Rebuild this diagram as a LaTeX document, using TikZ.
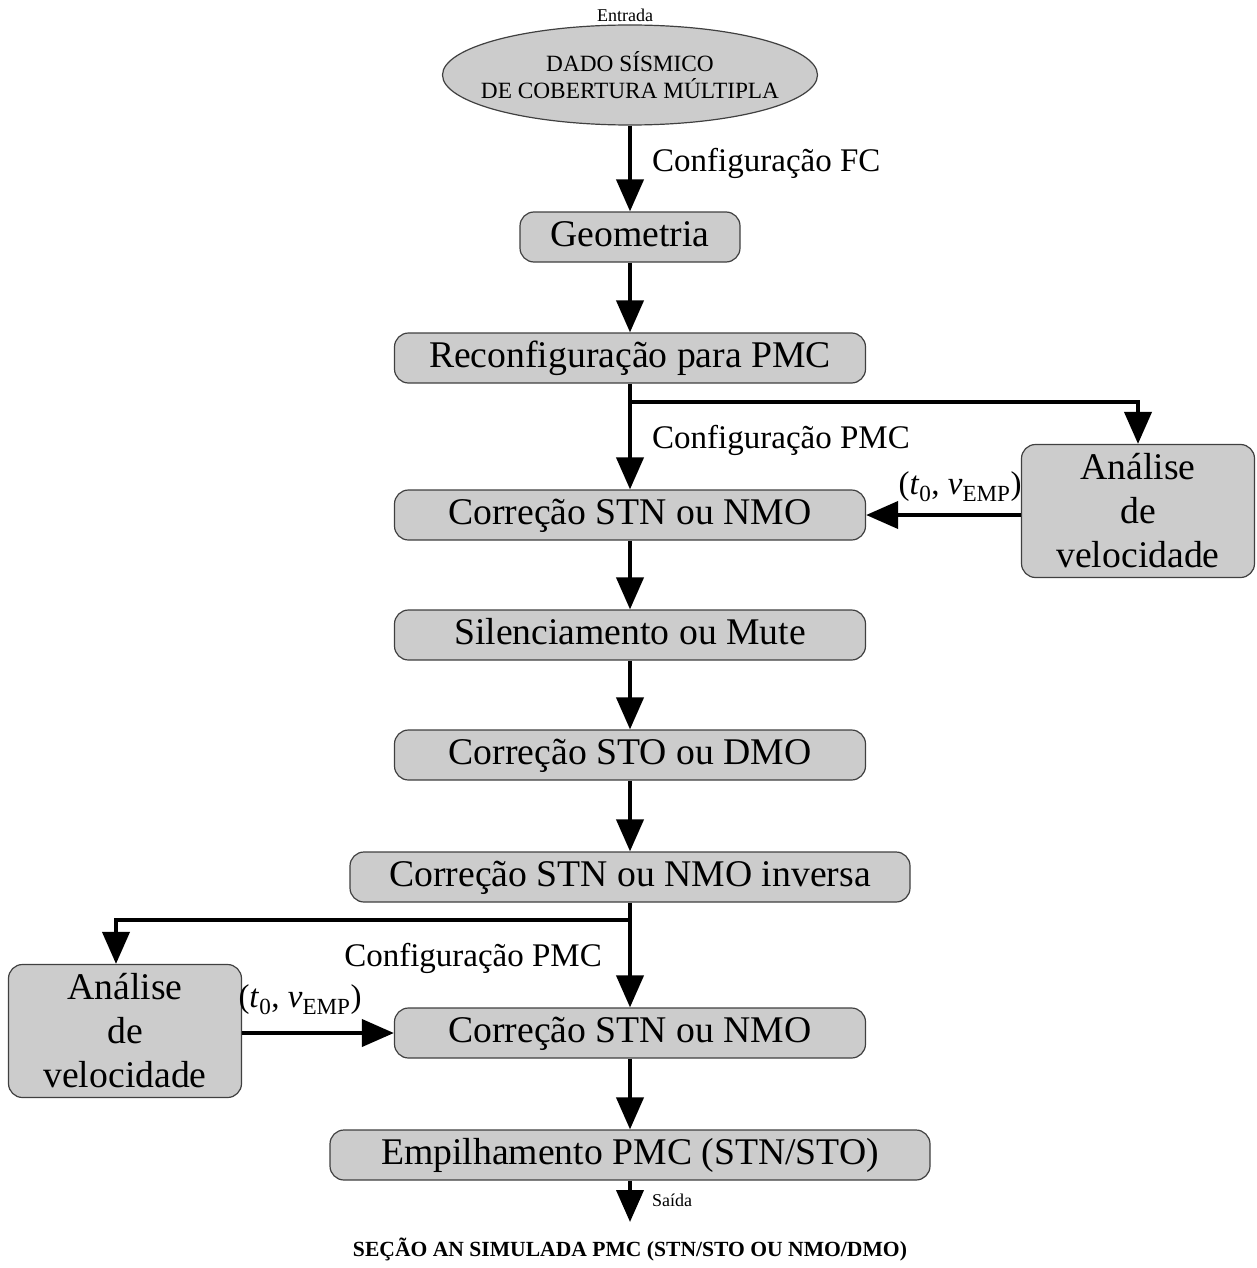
\documentclass[tikz,border=0pt]{standalone}
\usepackage{fontspec}
\setmainfont{Liberation Serif}
\usetikzlibrary{arrows.meta,shapes.geometric}

\begin{document}
\begin{tikzpicture}[x=1pt, y=-1pt,
    caixa/.style={draw=black!75, line width=1.2pt, fill=black!20, rounded corners=14pt,
        minimum height=50pt, inner sep=0pt, text height=26pt, text depth=8pt,
        font=\fontsize{37.7}{44}\selectfont},
    analise/.style={caixa, minimum width=233pt, minimum height=133pt, text height=, text depth=, align=center},
    seta/.style={line width=4pt, -{Triangle[length=32pt,width=27pt]}},
    rotulo/.style={inner sep=0pt, font=\fontsize{33}{40}\selectfont},
    pequeno/.style={inner sep=0pt, font=\fontsize{18}{20}\selectfont}]
    \useasboundingbox (0,0) rectangle (1257,1268);
    % entrada
    \node[ellipse, draw=black!75, line width=1.2pt, fill=black!20, minimum width=375pt, minimum height=100pt,
        inner xsep=-19pt, inner ysep=0pt, align=center, font=\fontsize{23.3}{27}\selectfont] (dado) at (630,75)
        {DADO S\'ISMICO\\DE COBERTURA M\'ULTIPLA};
    \node[pequeno] (entrada) at (625,15) {Entrada};
    % caixas
    \node[caixa, minimum width=220pt] (geom) at (630,237) {Geometria};
    \node[caixa, minimum width=471pt] (reconf) at (630,358) {Reconfigura\c{c}\~ao para PMC};
    \node[caixa, minimum width=471pt] (stn1) at (630,515) {Corre\c{c}\~ao STN ou NMO};
    \node[analise] (anal1) at (1138,511) {An\'alise\\de\\velocidade};
    \node[caixa, minimum width=471pt] (mute) at (630,635) {Silenciamento ou Mute};
    \node[caixa, minimum width=471pt] (sto) at (630,755) {Corre\c{c}\~ao STO ou DMO};
    \node[caixa, minimum width=560pt] (inv) at (630,877) {Corre\c{c}\~ao STN ou NMO inversa};
    \node[analise] (anal2) at (125,1031) {An\'alise\\de\\velocidade};
    \node[caixa, minimum width=471pt] (stn2) at (630,1033) {Corre\c{c}\~ao STN ou NMO};
    \node[caixa, minimum width=600pt] (emp) at (630,1155) {Empilhamento PMC (STN/STO)};
    \coordinate (r1) at (630,402);
    \coordinate (r2) at (630,920);
    \coordinate (saida) at (630,1222);
    % setas
    \draw[seta] (dado) -- (geom);
    \draw[seta] (geom) -- (reconf);
    \draw[seta] (reconf) -- (stn1);
    \draw[seta] (r1) -| (anal1);
    \draw[seta] (anal1.west |- stn1) -- (stn1.east);
    \draw[seta] (stn1) -- (mute);
    \draw[seta] (mute) -- (sto);
    \draw[seta] (sto) -- (inv);
    \draw[seta] (inv) -- (stn2);
    \draw[seta] (r2) -| ([xshift=-9pt]anal2.north);
    \draw[seta] (anal2.east |- stn2) -- (stn2.west);
    \draw[seta] (stn2) -- (emp);
    \draw[seta] (emp) -- (saida);
    % rotulos
    \node[rotulo, anchor=west] (cfc) at (652,163) {Configura\c{c}\~ao FC};
    \node[rotulo, anchor=west] (cpmc1) at (652,440) {Configura\c{c}\~ao PMC};
    \node[rotulo, anchor=east] (cpmc2) at (602,958) {Configura\c{c}\~ao PMC};
    \node[rotulo] (tv1) at (960,487) {(\textit{t}\textsubscript{0}, \textit{v}\textsubscript{EMP})};
    \node[rotulo] (tv2) at (300,1000) {(\textit{t}\textsubscript{0}, \textit{v}\textsubscript{EMP})};
    \node[pequeno, anchor=west] (lsaida) at (652,1200) {Sa\'ida};
    \node[inner sep=0pt, font=\bfseries\fontsize{21.6}{24}\selectfont] (secao) at (630,1250)
        {SE\c{C}\~AO AN SIMULADA PMC (STN/STO OU NMO/DMO)};
\end{tikzpicture}
\end{document}
